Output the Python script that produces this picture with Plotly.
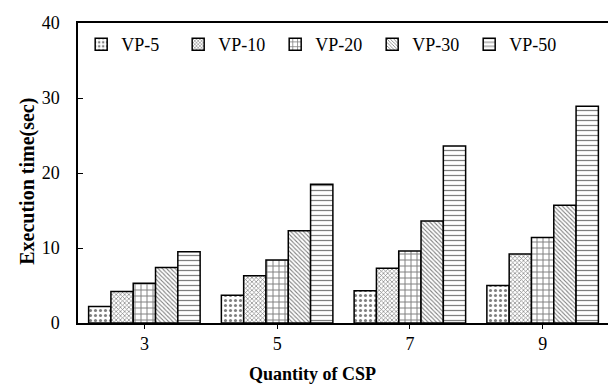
import plotly.graph_objects as go

categories = ["3", "5", "7", "9"]
series_names = ["VP-5", "VP-10", "VP-20", "VP-30", "VP-50"]
vp5 = [2.2, 3.7, 4.3, 5.0]
vp10 = [4.2, 6.3, 7.3, 9.2]
vp20 = [5.3, 8.4, 9.6, 11.4]
vp30 = [7.4, 12.3, 13.6, 15.7]
vp50 = [9.5, 18.5, 23.6, 28.9]
values = [vp5, vp10, vp20, vp30, vp50]
y_ticks = [0, 10, 20, 30, 40]

shapes = [".", "x", "+", "\\", "-"]
sizes = [5, 3, 6, 3, 5]
solid = [0.3, 0.4, 0.3, 0.35, 0.25]

fig = go.Figure()
for name, vals, sh, sz, so in zip(series_names, values, shapes, sizes, solid):
    fig.add_trace(go.Bar(
        x=categories, y=vals, name=name,
        marker=dict(color="white",
                    line=dict(color="black", width=1.5),
                    pattern=dict(shape=sh, fgcolor="black", bgcolor="white", size=sz, solidity=so)),
    ))

font = "Liberation Serif"
fig.update_layout(
    width=608, height=379,
    margin=dict(l=70, r=5, t=7, b=64),
    barmode="group", bargap=0.16, bargroupgap=0,
    plot_bgcolor="white", paper_bgcolor="white",
    font=dict(family=font, size=18, color="black"),
    showlegend=True,
    legend=dict(orientation="h", x=0.006, y=0.928, xanchor="left", yanchor="middle",
                font=dict(family=font, size=18), bgcolor="rgba(0,0,0,0)",
                itemwidth=30, entrywidth=52, entrywidthmode="pixels", tracegroupgap=0),
    xaxis=dict(type="category", showline=True, linecolor="black", linewidth=1.5, mirror=True,
               ticks="outside", ticklen=4, tickcolor="black"),
    yaxis=dict(range=[0, 40], tickvals=y_ticks, showline=True, linecolor="black", linewidth=1.5,
               mirror=True, ticks="inside", ticklen=5, tickcolor="black", showgrid=False, zeroline=False,
               ticklabeloverflow="allow", ticklabelstandoff=13),
    annotations=[
        dict(text="<b>Quantity of CSP</b>", xref="paper", yref="paper", x=0.441, y=-0.17,
             xanchor="center", yanchor="middle", showarrow=False,
             font=dict(family=font, size=18)),
        dict(text="<b>Execution time(sec)</b>", xref="paper", yref="paper", x=-0.094, y=0.471,
             xanchor="center", yanchor="middle", textangle=-90, showarrow=False,
             font=dict(family=font, size=20)),
    ],
)
fig.write_html("out.html")
